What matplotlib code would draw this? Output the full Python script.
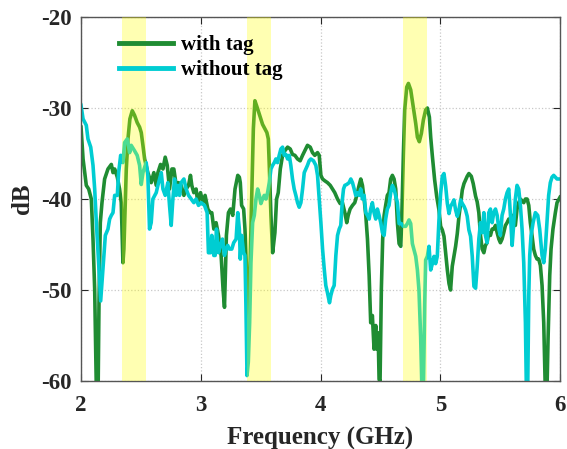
import matplotlib.pyplot as plt

# ---- data ----
with_f = [2.0, 2.017, 2.031, 2.044, 2.064, 2.086, 2.1, 2.114, 2.128, 2.142, 2.15, 2.161, 2.175, 2.197,
          2.225, 2.253, 2.267, 2.281, 2.303, 2.322, 2.336, 2.35, 2.358, 2.378, 2.392, 2.408, 2.428,
          2.447, 2.469, 2.489, 2.503, 2.517, 2.531, 2.558, 2.586, 2.608, 2.628, 2.642,
          2.664, 2.684, 2.703, 2.72, 2.739, 2.759, 2.775, 2.795, 2.814, 2.836, 2.859, 2.878, 2.898,
          2.914, 2.925, 2.942, 2.961, 2.975, 2.998, 3.017, 3.036, 3.059, 3.078, 3.092, 3.109, 3.128,
          3.148, 3.17, 3.186, 3.198, 3.214, 3.231, 3.248, 3.267, 3.286, 3.309,
          3.322, 3.33, 3.341, 3.358, 3.369, 3.38, 3.391, 3.4, 3.414, 3.427, 3.439, 3.452, 3.475, 3.497,
          3.516, 3.536, 3.552, 3.564, 3.572, 3.586, 3.6, 3.619, 3.633, 3.647, 3.664, 3.683, 3.702,
          3.725, 3.747, 3.766, 3.786, 3.808, 3.83, 3.85, 3.869, 3.891, 3.914, 3.933, 3.952, 3.975,
          3.989, 4.003, 4.017, 4.036, 4.058, 4.081, 4.1, 4.119, 4.142, 4.164, 4.183, 4.203, 4.219,
          4.231, 4.247, 4.267, 4.286, 4.303, 4.322, 4.336, 4.35, 4.364, 4.378, 4.392, 4.406, 4.419,
          4.433, 4.447, 4.461, 4.469, 4.481, 4.489, 4.497, 4.508, 4.519, 4.531, 4.544, 4.558, 4.572,
          4.586, 4.6, 4.614, 4.628, 4.642, 4.656,
          4.67, 4.678, 4.692, 4.703, 4.72, 4.734, 4.753, 4.775, 4.795, 4.809, 4.825, 4.842, 4.859,
          4.878, 4.892, 4.909, 4.92, 4.934, 4.953, 4.97, 4.989, 5.003, 5.017, 5.031, 5.045, 5.059,
          5.073, 5.086, 5.1, 5.114, 5.128, 5.142, 5.156, 5.17, 5.184, 5.198, 5.211, 5.225, 5.239,
          5.259, 5.275, 5.295, 5.308,
          5.322, 5.336, 5.35, 5.364, 5.377, 5.391, 5.405, 5.419, 5.433, 5.447, 5.461, 5.475, 5.489,
          5.502, 5.516, 5.53, 5.544, 5.558, 5.572, 5.586, 5.6, 5.614, 5.627, 5.641, 5.655, 5.669,
          5.683, 5.697, 5.711, 5.725, 5.739, 5.752, 5.766, 5.78, 5.794, 5.808, 5.822, 5.836, 5.85,
          5.864, 5.877, 5.891, 5.9, 5.914, 5.925, 5.941, 5.961, 5.975, 5.991, 6.0]
with_db = [-32.1, -35.6, -37.1, -38.5, -38.9, -40.0, -44.4, -49.9, -61, -62, -51.4, -42.6, -40.4, -37.8,
           -36.7, -36.2, -37.1, -36.7, -37.6, -38.9, -40.4, -47.0, -45.5, -36.7, -33.4, -31.2, -30.3,
           -30.8, -31.6, -32.1, -32.7, -34.1, -35.6, -37.1, -38.2, -37.1, -38.5, -37.1,
           -36.2, -36.7, -35.4, -36.3, -38.9, -36.7, -36.7, -38.5, -38.2, -38.5, -39.6, -38.9, -38.5,
           -37.4, -38.5, -39.3, -38.9, -40.4, -39.3, -40.4, -39.6, -41.1, -41.5, -41.5, -43.3, -42.6,
           -44.0, -46.2, -49.9, -51.9, -44.0, -41.5, -41.1, -41.8, -38.9, -37.4,
           -37.6, -38.2, -40.7, -41.1, -43.3, -47.0, -52.8, -53.6, -46.2, -38.9, -32.3, -29.2, -30.1, -31.0,
           -31.8, -32.3, -32.7, -33.4, -36.3, -41.8, -45.9, -43.7, -40.0, -39.3, -36.7, -35.2, -34.7,
           -34.3, -34.5, -35.1, -35.2, -35.6, -35.8, -35.2, -34.7, -34.1, -34.3, -34.9, -35.2, -34.9,
           -35.2, -37.4, -37.8, -38.0, -38.2, -38.5, -38.9, -39.3, -40.0, -40.5, -40.4, -41.5, -42.6,
           -41.8, -41.1, -40.7, -40.4, -39.6, -38.5, -37.8, -38.5, -40.0, -41.8, -44.4, -48.4, -53.6,
           -52.8, -56.5, -53.9, -56.5, -54.7, -59.8, -60.1, -49.9, -44.4, -41.8, -40.7, -39.6, -39.3,
           -37.8, -37.4, -37.8, -38.9, -42.6, -44.9,
           -45.2, -42.3, -35.0, -30.2, -27.7, -27.3, -28.0, -29.9, -31.7, -33.2, -33.7, -32.8, -31.3,
           -30.2, -30.0, -31.0, -33.2, -35.3, -37.9, -39.7, -41.2, -43.0, -43.4, -44.1, -46.0, -47.8,
           -49.3, -50.0, -47.4, -46.3, -45.2, -43.8, -41.9, -40.5, -39.0, -38.3, -37.9, -37.5, -37.2,
           -37.5, -38.3, -39.7, -40.3,
           -41.5, -44.0, -45.5, -45.9, -45.1, -44.8, -43.7, -44.0, -43.3, -43.3, -42.9, -43.7, -44.4,
           -44.8, -44.4, -43.7, -42.9, -42.6, -42.2, -42.2, -41.8, -42.6, -42.9, -41.1, -40.4, -40.0,
           -40.2, -40.4, -40.0, -40.0, -40.7, -42.6, -44.0, -45.5, -46.2, -46.6, -46.6, -47.3, -49.5,
           -53.6, -61, -61, -55.4, -48.4, -45.5, -43.3, -41.5, -40.4, -40.0, -39.8]

without_f = [2.0, 2.017, 2.044, 2.058, 2.081, 2.1, 2.114, 2.128, 2.147, 2.164, 2.183, 2.203, 2.225,
             2.239, 2.253, 2.267, 2.281, 2.303, 2.314, 2.331, 2.35, 2.364, 2.386, 2.406, 2.419, 2.447,
             2.469, 2.489, 2.503, 2.517, 2.544, 2.558, 2.572, 2.586, 2.6, 2.628, 2.642,
             2.656, 2.67, 2.684, 2.703, 2.725, 2.739, 2.753, 2.767, 2.781, 2.795, 2.809, 2.823, 2.836,
             2.859, 2.878, 2.898, 2.92, 2.942, 2.961, 2.981, 3.003, 3.031, 3.053, 3.064, 3.081, 3.092,
             3.109, 3.12, 3.131, 3.148, 3.164, 3.181, 3.198, 3.211, 3.225, 3.239, 3.259, 3.275, 3.295,
             3.309,
             3.322, 3.33, 3.341, 3.358, 3.369, 3.377, 3.386, 3.397, 3.408, 3.419, 3.433, 3.447, 3.461,
             3.475, 3.489, 3.502, 3.516, 3.53, 3.544, 3.558, 3.572, 3.586, 3.6, 3.614, 3.627, 3.641,
             3.655, 3.669, 3.683, 3.697, 3.711, 3.725, 3.739, 3.752, 3.766, 3.78, 3.794, 3.808, 3.822,
             3.836, 3.85, 3.864, 3.877, 3.891, 3.905, 3.919, 3.941, 3.961, 3.975,
             3.989, 4.003, 4.017, 4.031, 4.044, 4.058, 4.075, 4.086, 4.1, 4.114, 4.128, 4.142, 4.156,
             4.169, 4.183, 4.192, 4.203, 4.219, 4.239, 4.253, 4.267, 4.281, 4.294, 4.308, 4.322, 4.336,
             4.35, 4.364, 4.378, 4.392, 4.406, 4.419, 4.433, 4.447, 4.461, 4.475, 4.489, 4.503, 4.517,
             4.531, 4.544, 4.558, 4.572, 4.586, 4.6, 4.614, 4.642,
             4.656, 4.675, 4.692, 4.711, 4.725, 4.739, 4.753, 4.767, 4.781, 4.795, 4.809, 4.822, 4.836,
             4.847, 4.859, 4.87, 4.878, 4.892, 4.906, 4.92, 4.934, 4.948, 4.961, 4.975, 4.989, 5.003,
             5.017, 5.031, 5.045, 5.059, 5.073, 5.086, 5.1, 5.114, 5.128, 5.142, 5.156, 5.17, 5.184,
             5.198, 5.211, 5.225, 5.239, 5.253, 5.267, 5.281, 5.295, 5.308,
             5.322, 5.336, 5.35, 5.364, 5.377, 5.391, 5.405, 5.419, 5.433, 5.447, 5.461, 5.475, 5.489,
             5.502, 5.516, 5.53, 5.544, 5.558, 5.572, 5.586, 5.6, 5.614, 5.627, 5.641, 5.655, 5.669,
             5.683, 5.697, 5.711, 5.719, 5.73, 5.739, 5.747, 5.758, 5.775, 5.794, 5.814, 5.83, 5.85,
             5.864, 5.877, 5.891, 5.905, 5.919, 5.933, 5.947, 5.961, 5.975, 5.991, 6.0]
without_db = [-29.7, -31.2, -31.9, -33.4, -34.3, -36.3, -38.9, -42.6, -47.0, -51.2, -47.7, -44.0, -43.3,
              -42.2, -41.8, -41.5, -39.6, -39.6, -37.1, -35.2, -36.0, -33.8, -33.4, -34.9, -34.1, -34.7,
              -35.2, -36.3, -38.4, -37.1, -36.0, -37.4, -43.3, -42.6, -40.0, -39.3, -38.5,
              -37.8, -37.1, -38.9, -39.6, -38.2, -40.7, -42.9, -40.0, -37.8, -39.6, -38.5, -39.6, -38.2,
              -37.8, -38.9, -39.6, -40.0, -40.4, -40.0, -40.7, -40.4, -40.7, -41.5, -45.9, -45.9, -44.0,
              -46.2, -46.2, -43.3, -45.9, -45.1, -44.4, -46.2, -45.5, -45.1, -45.5, -45.5, -44.8, -44.4,
              -41.5,
              -43.3, -46.6, -44.0, -45.9, -46.2, -51.7, -59.4, -57.9, -53.6, -47.0, -42.6, -41.8, -40.0,
              -38.9, -39.6, -40.5, -40.0, -39.6, -40.0, -39.3, -38.2, -36.7, -36.3, -36.0, -35.6, -36.0,
              -35.2, -34.5, -34.3, -35.2, -35.1, -35.6, -35.2, -36.3, -37.8, -38.9, -39.6, -40.4, -40.9,
              -40.4, -38.9, -37.1, -36.7, -36.3, -35.8, -35.6, -35.8, -36.3, -37.4,
              -40.0, -42.6, -45.5, -47.7, -49.5, -50.3, -51.4, -50.6, -49.9, -49.5, -46.2, -44.0, -43.3,
              -42.9, -40.0, -38.9, -38.5, -38.4, -38.2, -37.8, -38.2, -38.9, -39.6, -39.3, -39.6, -38.9,
              -40.0, -39.6, -41.5, -41.8, -42.2, -41.1, -40.4, -41.5, -42.2, -41.1, -41.8, -42.6, -43.7,
              -44.0, -42.2, -41.1, -40.7, -39.3, -38.5, -38.9, -40.4,
              -42.7, -42.7, -43.0, -43.0, -42.7, -42.3, -42.7, -44.9, -45.6, -46.3, -47.8, -50.0, -55.1,
              -61, -61, -51.5, -46.7, -46.3, -45.2, -47.8, -47.1, -46.3, -47.1, -46.3, -42.3, -39.4,
              -37.5, -37.2, -38.6, -40.5, -41.6, -40.8, -40.5, -40.1, -41.2, -41.9, -41.2, -40.1, -40.5,
              -40.8, -41.2, -41.9, -43.4, -44.1, -46.3, -49.6, -49.8, -47.5,
              -44.4, -42.6, -43.7, -41.5, -44.0, -44.8, -41.5, -41.1, -42.6, -41.5, -41.1, -41.8, -43.3,
              -44.0, -41.8, -41.1, -40.0, -39.3, -38.9, -41.8, -45.1, -42.6, -40.0, -38.5, -38.9, -40.7,
              -43.3, -47.0, -53.6, -61, -61, -50.6, -46.2, -44.0, -42.6, -41.5, -41.8, -43.3, -46.2,
              -47.0, -45.5, -42.6, -39.6, -38.2, -37.6, -37.4, -37.6, -37.8, -37.8, -37.8]

bands = [(2.34, 2.54), (3.39, 3.59), (4.69, 4.89)]

# ---- plot ----
plt.rcParams['font.family'] = ['Liberation Serif', 'DejaVu Serif']
plt.rcParams['font.weight'] = 'bold'
plt.rcParams['axes.unicode_minus'] = False

fig = plt.figure(figsize=(5.67, 4.49), dpi=100)
ax = fig.add_axes([0.1429, 0.1514, 0.8448, 0.8107])

ax.plot(with_f, with_db, color='#1f8c32', lw=2.6, label='with tag', zorder=2)
ax.plot(without_f, without_db, color='#00cdd2', lw=2.6, label='without tag', zorder=2)

for lo, hi in bands:
  ax.axvspan(lo, hi, color='yellow', alpha=0.3, lw=0, zorder=3)

ax.set_xlim(2, 6)
ax.set_ylim(-60, -20)
ax.set_xticks([2, 3, 4, 5, 6])
ax.set_yticks([-60, -50, -40, -30, -20])
ax.grid(True, ls=':', color='#c8c8c8', lw=0.9)
ax.tick_params(direction='in', top=True, right=True, length=5, labelsize=16.5, colors='#262626')
ax.tick_params(axis='x', pad=10)
ax.tick_params(axis='y', pad=7)
for s in ax.spines.values():
  s.set_color('#555555')
  s.set_linewidth(1.0)

ax.set_xlabel('Frequency (GHz)', fontsize=18, fontweight='bold', labelpad=8, color='#262626')
ax.set_ylabel('dB', fontsize=18, fontweight='bold', labelpad=5, color='#262626')

leg = ax.legend(loc='upper left', bbox_to_anchor=(0.048, 0.99), frameon=False, fontsize=15,
                handlelength=2.6, handletextpad=0.4, labelspacing=0.25, borderaxespad=0.3)
for h in leg.get_lines():
  h.set_linewidth(3.5)

fig.savefig('out.png', dpi=100)
